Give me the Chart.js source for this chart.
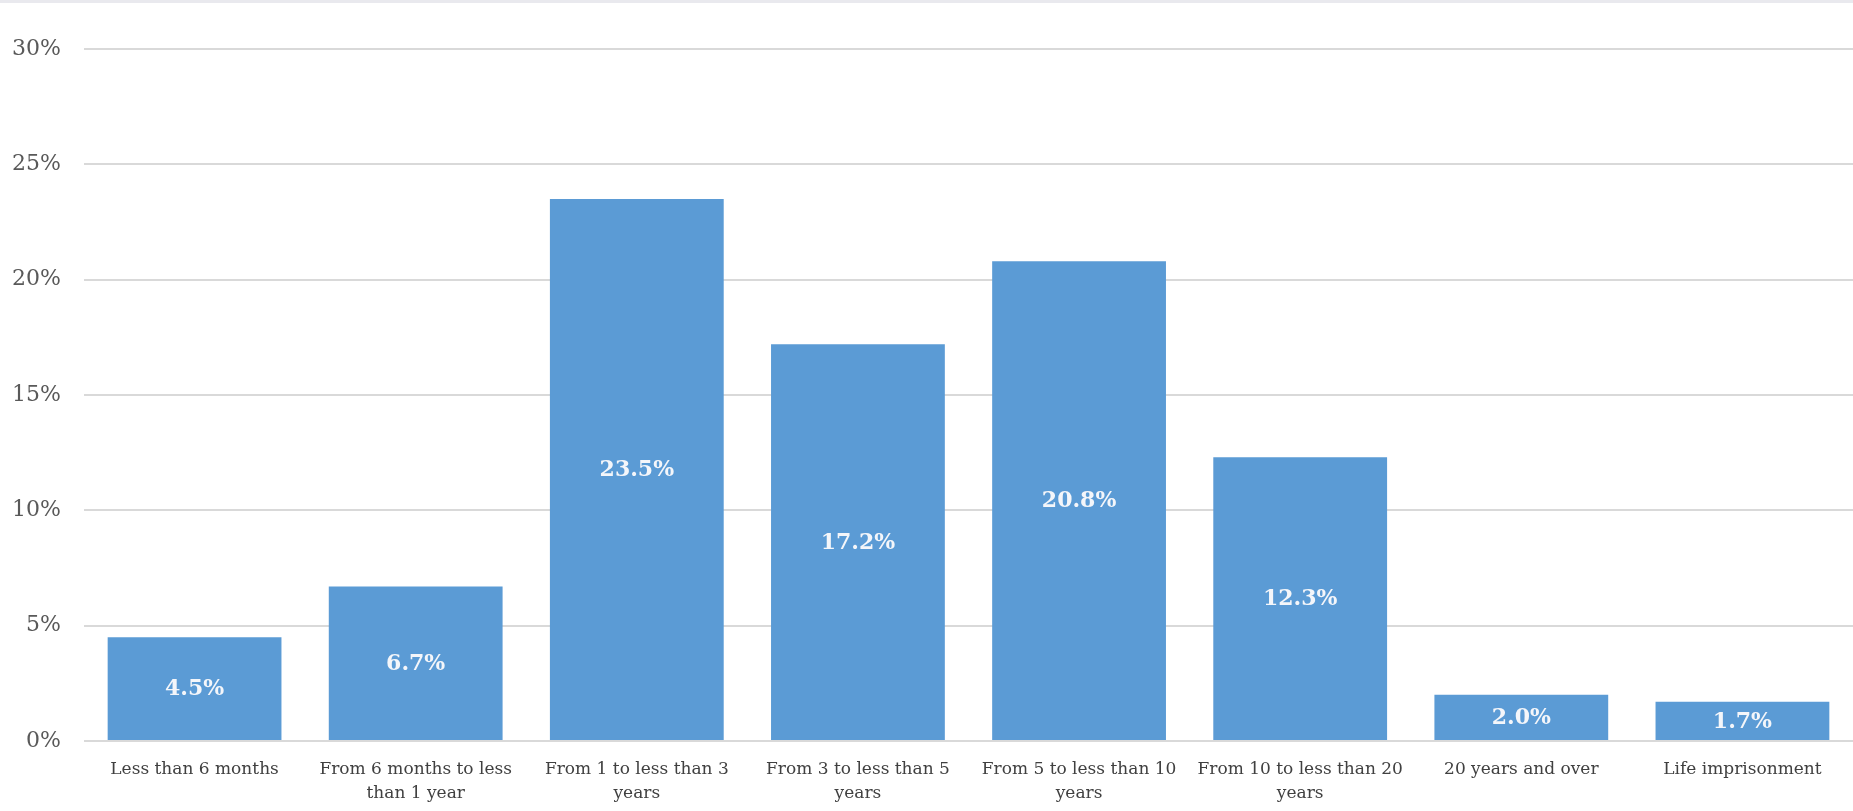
<!DOCTYPE html>
<html>
<head>
<meta charset="utf-8">
<script src="https://cdn.jsdelivr.net/npm/chart.js@4"></script>
<style>
  html, body { margin: 0; padding: 0; background: #fff; overflow: hidden; }
  #strip { position: absolute; left: 0; top: 0; width: 1853px; height: 3px; background: #e9e9ee; }
  #wrap { position: absolute; left: 0; top: 0; width: 1853px; height: 811px; }
</style>
</head>
<body>
<div id="wrap"><canvas id="chart"></canvas></div>
<div id="strip"></div>
<script>
// Sentence lengths, share of sentenced persons (%)
const categories = [
    'Less than 6 months',
    ['From 6 months to less', 'than 1 year'],
    ['From 1 to less than 3', 'years'],
    ['From 3 to less than 5', 'years'],
    ['From 5 to less than 10', 'years'],
    ['From 10 to less than 20', 'years'],
    '20 years and over',
    'Life imprisonment'
];
const shares = [4.5, 6.7, 23.5, 17.2, 20.8, 12.3, 2.0, 1.7];
const yTicks = [0, 5, 10, 15, 20, 25, 30];

const FONT = '"DejaVu Serif", "Liberation Serif", serif';

// Writes the value in the middle of each bar
const barLabels = {
    id: 'barLabels',
    afterDatasetsDraw(chart) {
        const ctx = chart.ctx;
        const meta = chart.getDatasetMeta(0);
        ctx.save();
        ctx.fillStyle = '#f4f6fa';
        ctx.font = 'bold 22px ' + FONT;
        ctx.textAlign = 'center';
        ctx.textBaseline = 'middle';
        meta.data.forEach((bar, i) => {
            const mid = (bar.y + bar.base) / 2;
            ctx.fillText(shares[i].toFixed(1) + '%', bar.x, mid + 1);
        });
        ctx.restore();
    }
};

new Chart(document.getElementById('chart'), {
    type: 'bar',
    data: {
        labels: categories,
        datasets: [{
            data: shares,
            backgroundColor: '#5b9bd5',
            borderWidth: 0,
            barPercentage: 0.786,
            categoryPercentage: 1
        }]
    },
    options: {
        responsive: true,
        maintainAspectRatio: false,
        animation: false,
        layout: { padding: { top: 49, right: 0, bottom: 0, left: 0 } },
        plugins: {
            legend: { display: false },
            tooltip: { enabled: false }
        },
        scales: {
            x: {
                afterFit(scale) { scale.height = 70; },
                grid: { display: false },
                border: { display: false },
                ticks: {
                    color: '#404040',
                    font: { family: FONT, size: 17, lineHeight: 1.38 },
                    padding: 9,
                    maxRotation: 0,
                    autoSkip: false
                }
            },
            y: {
                min: 0,
                max: 30,
                afterFit(scale) { scale.width = 84; },
                afterBuildTicks(scale) { scale.ticks = yTicks.map(v => ({ value: v })); },
                grid: { color: '#d9d9d9', lineWidth: 2, drawTicks: false },
                border: { display: false },
                ticks: {
                    color: '#595959',
                    font: { family: FONT, size: 22 },
                    padding: 23,
                    callback: v => v + '%'
                }
            }
        }
    },
    plugins: [barLabels]
});
</script>
</body>
</html>
